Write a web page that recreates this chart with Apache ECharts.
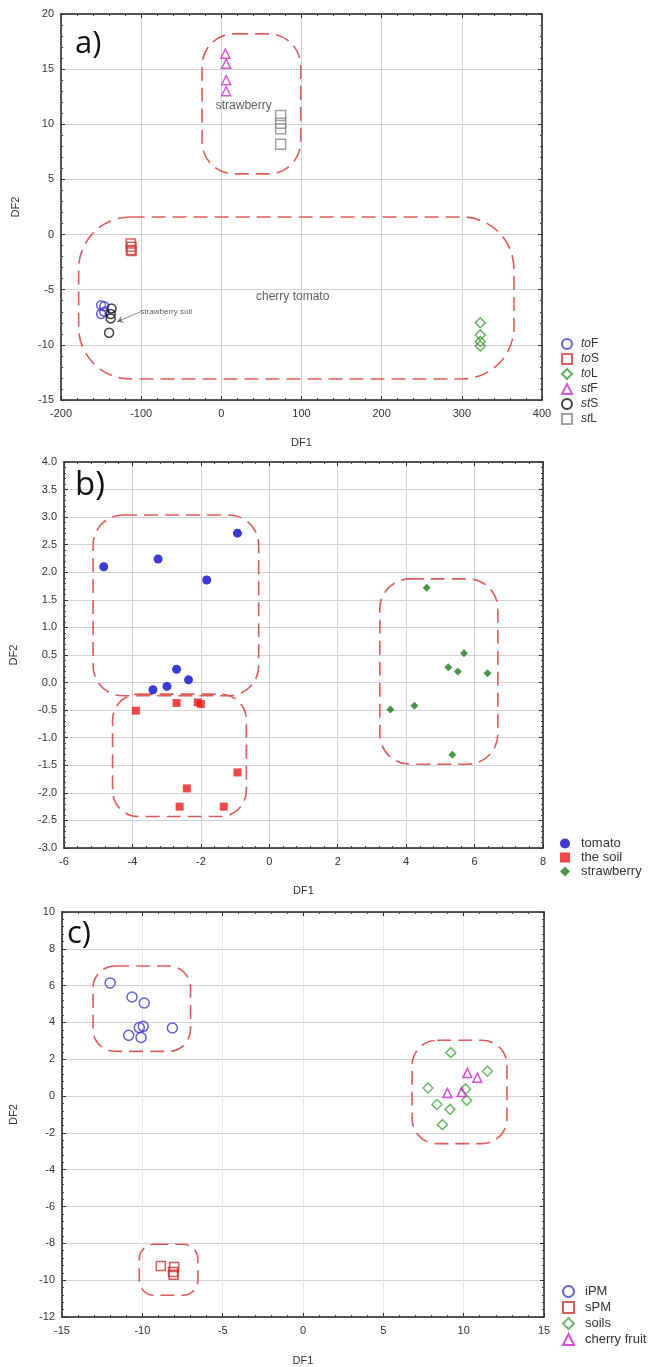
<!DOCTYPE html>
<html>
<head>
<meta charset="utf-8">
<script src="https://cdn.jsdelivr.net/npm/echarts@6/dist/echarts.min.js"></script>
<style>
  html, body { margin: 0; padding: 0; background: #fff; }
  #chart_container { width: 655px; height: 1367px; }
</style>
</head>
<body>
<div id="chart_container"></div>
<script>
"use strict";

// ---- panel a) data
const aToF = [[-150, -6.4], [-146, -6.5], [-150, -7.2], [-146, -7.0]];
const aToS = [[-113, -0.8], [-112, -1.1], [-112, -1.5], [-113, -1.4]];
const aToL = [[323, -8.0], [323, -9.1], [323, -9.7], [323, -10.1]];
const aStF = [[5, 16.4], [6, 15.5], [6, 14.0], [6, 13.0]];
const aStS = [[-137, -6.7], [-138, -7.2], [-138, -7.6], [-140, -8.9]];
const aStL = [[74, 10.8], [74, 10.1], [74, 9.6], [74, 8.2]];
const aBoxes = [[-24, 18.2, 99, 5.5], [-178, 1.6, 365, -13.1]];
const aNotes = [[28, 11.7, 'strawberry'], [89, -5.6, 'cherry tomato']];
const aSoilNote = [[-101, -7.0, 'strawberry soil']];
const aArrow = [[-101, -7.0], [-130, -7.9]];

// ---- panel b) data
const bTomato = [[-4.84, 2.1], [-3.25, 2.24], [-0.93, 2.71], [-1.83, 1.86],
                 [-2.71, 0.24], [-2.36, 0.05], [-2.99, -0.07], [-3.4, -0.13]];
const bSoil = [[-3.9, -0.51], [-2.71, -0.37], [-2.09, -0.36], [-2.0, -0.39],
               [-0.93, -1.63], [-2.41, -1.92], [-2.62, -2.25], [-1.33, -2.25]];
const bStraw = [[4.6, 1.72], [5.69, 0.53], [5.23, 0.28], [5.51, 0.2],
                [6.38, 0.17], [4.24, -0.42], [3.54, -0.49], [5.35, -1.31]];
const bBoxes = [[-5.15, 3.04, -0.31, -0.24], [-4.58, -0.21, -0.67, -2.43], [3.23, 1.88, 6.68, -1.48]];

// ---- panel c) data
const cIPM = [[-12.0, 6.15], [-10.64, 5.38], [-9.88, 5.06], [-10.19, 3.72],
              [-9.94, 3.79], [-10.85, 3.3], [-10.08, 3.18], [-8.13, 3.7]];
const cSPM = [[-8.85, -9.23], [-8.02, -9.28], [-8.09, -9.55], [-8.05, -9.7]];
const cSoils = [[9.2, 2.36], [11.48, 1.35], [7.78, 0.44], [10.12, 0.39],
                [10.19, -0.23], [8.33, -0.46], [9.15, -0.72], [8.68, -1.55]];
const cFruit = [[10.23, 1.26], [10.85, 1.0], [8.99, 0.17], [9.88, 0.22]];
const cBoxes = [[-13.07, 7.07, -7.0, 2.43], [-10.19, -8.05, -6.54, -10.82], [6.79, 3.03, 12.7, -2.58]];

// axis ranges
const axA = { xMin: -200, xMax: 400, xInt: 100, yMin: -15, yMax: 20, yInt: 5 };
const axB = { xMin: -6, xMax: 8, xInt: 2, yMin: -3, yMax: 4, yInt: 0.5 };
const axC = { xMin: -15, xMax: 15, xInt: 5, yMin: -12, yMax: 10, yInt: 2 };

const FONT = 'Liberation Sans, Arial, sans-serif';
const BOX_RED = '#e05c5c';

let myChart;

let makeAxes = (gi, ax, opt) => {
    let frame = { onZero: false, lineStyle: { color: '#222', width: 1.5 } };
    let tick = { show: true, inside: true, length: 4, lineStyle: { color: '#333' } };
    let minor = { show: true, splitNumber: 5, length: 2, lineStyle: { color: '#444' } };
    let lbl = { color: '#333', fontSize: 11, fontFamily: FONT, margin: 7 };
    let xs = [
        {
            gridIndex: gi, type: 'value', min: ax.xMin, max: ax.xMax, interval: ax.xInt,
            position: 'bottom', axisLine: frame, axisTick: tick, minorTick: minor,
            axisLabel: Object.assign({}, lbl, { margin: 8 }),
            splitLine: { show: true, lineStyle: { color: opt.vGrid || '#d2d2d2', width: 1 } },
            name: 'DF1', nameLocation: 'middle', nameGap: opt.xGap,
            nameTextStyle: { color: '#333', fontSize: 11, fontFamily: FONT }
        },
        {
            gridIndex: gi, type: 'value', min: ax.xMin, max: ax.xMax, interval: ax.xInt,
            position: 'top', axisLine: frame, axisTick: tick, minorTick: minor,
            axisLabel: { show: false }, splitLine: { show: false }
        }
    ];
    let ys = [
        {
            gridIndex: gi, type: 'value', min: ax.yMin, max: ax.yMax, interval: ax.yInt,
            position: 'left', axisLine: frame, axisTick: tick, minorTick: minor,
            axisLabel: Object.assign({}, lbl, opt.yFmt ? { formatter: opt.yFmt } : {}),
            splitLine: { show: true, lineStyle: { color: '#d2d2d2', width: 1 } },
            name: 'DF2', nameLocation: 'middle', nameGap: opt.yGap,
            nameTextStyle: { color: '#333', fontSize: 11, fontFamily: FONT }
        },
        {
            gridIndex: gi, type: 'value', min: ax.yMin, max: ax.yMax, interval: ax.yInt,
            position: 'right', axisLine: frame, axisTick: tick, minorTick: minor,
            axisLabel: { show: false }, splitLine: { show: false }
        }
    ];
    return { xs, ys };
}

let boxSeries = (gi, boxes, radii) => ({
    type: 'custom',
    name: '_box' + gi,
    xAxisIndex: gi * 2, yAxisIndex: gi * 2,
    silent: true, z: 1,
    encode: { x: [0, 2], y: [1, 3] },
    data: boxes,
    renderItem: (params, api) => {
        let p1 = api.coord([api.value(0), api.value(1)]);
        let p2 = api.coord([api.value(2), api.value(3)]);
        return {
            type: 'rect',
            shape: { x: p1[0], y: p1[1], width: p2[0] - p1[0], height: p2[1] - p1[1], r: radii[params.dataIndex] },
            style: { fill: 'none', stroke: BOX_RED, lineWidth: 1.6, lineDash: [14, 7] }
        };
    }
});

let pts = (gi, name, data, symbol, size, color, hollow) => ({
    type: 'scatter',
    name: name,
    xAxisIndex: gi * 2, yAxisIndex: gi * 2,
    symbol: symbol, symbolSize: size, z: 3,
    data: data,
    itemStyle: hollow
        ? { color: 'rgba(255,255,255,0)', borderColor: color, borderWidth: 1.5 }
        : { color: color, borderWidth: 0 }
});

let noteSeries = (gi, name, data, fontSize, pos) => ({
    type: 'scatter',
    name: name,
    xAxisIndex: gi * 2, yAxisIndex: gi * 2,
    symbolSize: 0, silent: true, z: 4,
    data: data,
    label: {
        show: true, position: pos, distance: 0,
        formatter: p => p.value[2],
        color: '#333', fontSize: fontSize, fontFamily: FONT
    }
});

let pageLoaded = () => {
    let chartDom = document.getElementById('chart_container');
    myChart = echarts.init(chartDom, null, { renderer: 'canvas' });

    let aAx = makeAxes(0, axA, { xGap: 37, yGap: 40 });
    let bAx = makeAxes(1, axB, { xGap: 37, yGap: 45, yFmt: v => v.toFixed(1) });
    let cAx = makeAxes(2, axC, { xGap: 38, yGap: 43, vGrid: '#e8e8e8' });

    let legText = { color: '#333', fontSize: 12, fontFamily: FONT, padding: [0, 0, 0, 4] };

    let optEchart = {
        animation: false,
        backgroundColor: '#fff',
        title: [
            { text: 'a)', left: 70, top: 24, textStyle: { fontSize: 31, fontWeight: 'normal', fontFamily: 'Open Sans', color: '#111' } },
            { text: 'b)', left: 70, top: 464, textStyle: { fontSize: 33, fontWeight: 'normal', fontFamily: 'Open Sans', color: '#111' } },
            { text: 'c)', left: 62, top: 914, textStyle: { fontSize: 31, fontWeight: 'normal', fontFamily: 'Open Sans', color: '#111' } }
        ],
        grid: [
            { left: 61, top: 14, width: 481, height: 386 },
            { left: 59, top: 462, width: 484, height: 386 },
            { left: 57, top: 912, width: 487, height: 405 }
        ],
        xAxis: [...aAx.xs, ...bAx.xs, ...cAx.xs],
        yAxis: [...aAx.ys, ...bAx.ys, ...cAx.ys],
        legend: [
            {
                data: ['toF', 'toS', 'toL', 'stF', 'stS', 'stL'],
                orient: 'vertical', left: 556, top: 333,
                itemWidth: 10, itemHeight: 10, itemGap: 3,
                formatter: n => '{i|' + n.slice(0, 2) + '}' + n.slice(2),
                textStyle: Object.assign({}, legText, {
                    rich: { i: { fontStyle: 'italic', fontSize: 12, fontFamily: FONT, color: '#333' } }
                })
            },
            {
                data: ['tomato', 'the soil', 'strawberry'],
                orient: 'vertical', left: 555, top: 832,
                itemWidth: 10, itemHeight: 10, itemGap: 1,
                textStyle: Object.assign({}, legText, { fontSize: 13, lineHeight: 13, padding: [0, 0, 0, 6] })
            },
            {
                data: ['iPM', 'sPM', 'soils', 'cherry fruit'],
                orient: 'vertical', left: 557, top: 1280,
                itemWidth: 11, itemHeight: 11, itemGap: 3,
                textStyle: Object.assign({}, legText, { fontSize: 13, padding: [0, 0, 0, 6] })
            }
        ],
        series: [
            boxSeries(0, aBoxes, [32, 52]),
            pts(0, 'toF', aToF, 'circle', 9, '#3a3ad0', true),
            pts(0, 'toS', aToS, 'rect', 9, '#d83a3a', true),
            pts(0, 'toL', aToL, 'diamond', 10, '#3c9a3c', true),
            pts(0, 'stF', aStF, 'triangle', 9, '#d030d0', true),
            pts(0, 'stS', aStS, 'circle', 9, '#111', true),
            pts(0, 'stL', aStL, 'rect', 10, '#8a8a8a', true),
            noteSeries(0, '_noteA', aNotes, 12, 'inside'),
            noteSeries(0, '_soilA', aSoilNote, 8, 'right'),
            {
                type: 'lines',
                name: '_arrowA',
                coordinateSystem: 'cartesian2d',
                xAxisIndex: 0, yAxisIndex: 0,
                symbol: ['none', 'arrow'], symbolSize: 6, z: 4,
                lineStyle: { color: '#222', width: 1 },
                data: [{ coords: aArrow }]
            },

            boxSeries(1, bBoxes, [30, 26, 30]),
            pts(1, 'tomato', bTomato, 'circle', 9, '#0a0ac8', false),
            pts(1, 'the soil', bSoil, 'rect', 8, '#ee1c1c', false),
            pts(1, 'strawberry', bStraw, 'diamond', 8, '#1b7a1b', false),

            boxSeries(2, cBoxes, [22, 15, 25]),
            pts(2, 'iPM', cIPM, 'circle', 10, '#3a3ac8', true),
            pts(2, 'sPM', cSPM, 'rect', 9, '#cc3333', true),
            pts(2, 'soils', cSoils, 'diamond', 10, '#4aa64a', true),
            pts(2, 'cherry fruit', cFruit, 'triangle', 9, '#d020d0', true)
        ]
    };

    optEchart && myChart.setOption(optEchart);
    console.log(`echart config and creation complete`);
}

window.addEventListener('load', pageLoaded, false);
</script>
</body>
</html>
